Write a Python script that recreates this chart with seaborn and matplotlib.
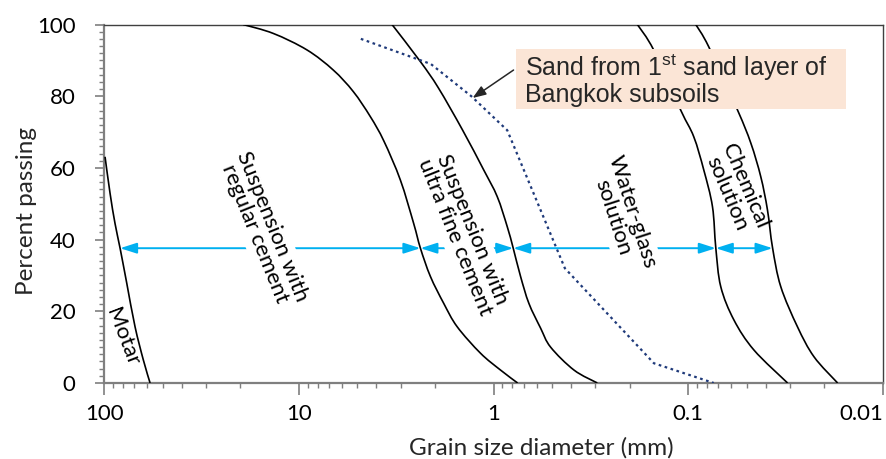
import numpy as np
import pandas as pd
import matplotlib
matplotlib.use("Agg")
import matplotlib.pyplot as plt
import matplotlib.ticker as mticker
from matplotlib.path import Path
from matplotlib.patches import PathPatch, Rectangle
import seaborn as sns

# ---------------- data ----------------
motar_d = [98.8, 93.1, 87.8, 82.7, 76.4, 69.3, 62.8, 58.0]
motar_p = [63.1, 52.9, 44.5, 37.6, 27.8, 15.7, 6.4, 0.0]

regular_d = [19.3, 13.5, 9.07, 6.65, 5.25, 4.29, 3.656, 3.007, 2.570, 2.373,
             2.108, 1.801, 1.537, 1.166, 0.92, 0.752]
regular_p = [100, 97.5, 92.9, 87.3, 81.3, 74.3, 67.5, 56.6, 44.5, 37.6,
             29.7, 22.2, 15.7, 8.3, 3.6, 0]

ultra_d = [3.32, 2.37, 1.918, 1.443, 1.122, 0.957, 0.850, 0.792, 0.726, 0.658,
           0.573, 0.509, 0.386, 0.293]
ultra_p = [100, 89.6, 82.3, 70.6, 59.4, 52.0, 43.6, 37.6, 29.7, 22.2,
           15.3, 10.0, 3.6, 0]

water_d = [0.1825, 0.1505, 0.1093, 0.0937, 0.0832, 0.0751, 0.0722, 0.0681,
           0.0583, 0.0460, 0.0309]
water_p = [100, 92.9, 76.1, 68.7, 59.4, 49.2, 37.7, 26.9, 17.6, 9.2, 0]

chem_d = [0.0915, 0.0785, 0.0558, 0.0477, 0.0424, 0.0392, 0.0369, 0.0335,
          0.0275, 0.0226, 0.0171]
chem_p = [100, 93.8, 76.1, 66.9, 57.5, 48.3, 37.7, 26.9, 15.7, 7.3, 0]

sand_d = [4.8, 2.1, 1.3, 0.85, 0.43, 0.15, 0.074]
sand_p = [96, 89, 80, 70.5, 32, 5.5, 0]

arrow_level = 37.6
arrow_bounds = [82.7, 2.373, 0.792, 0.0722, 0.0369]

x_ticks = [100, 10, 1, 0.1, 0.01]
x_tick_labels = ["100", "10", "1", "0.1", "0.01"]
y_ticks = [0, 20, 40, 60, 80, 100]

labels = ["Motar", "Suspension with\nregular cement",
          "Suspension with\nultra fine cement", "Water-glass\nsolution",
          "Chemical\nsolution"]
label_d = [80.8, 15.2, 1.43, 0.217, 0.057]
label_p = [12.8, 42.7, 41.8, 46.9, 53.8]
label_rot = [-69, -68, -68, -72, -67]
label_gap = [False, True, True, True, False]

annot_text = "Sand from 1$^{\\mathrm{st}}$ sand layer of\nBangkok subsoils"
annot_head = (1.28, 79.5)
annot_tail = (0.789, 87.3)

# ---------------- styling ----------------
sns.set_style("ticks")
plt.rcParams["font.family"] = ["Lato", "DejaVu Sans"]
plt.rcParams["mathtext.fontset"] = "custom"
plt.rcParams["mathtext.rm"] = "Liberation Sans"

fig = plt.figure(figsize=(8.86, 4.59), dpi=100)
ax = fig.add_axes([0.1174, 0.1656, 0.8792, 0.781])
ax.set_xscale("log")
ax.set_xlim(100, 0.01)
ax.set_ylim(0, 100)


def smooth_curve(ax, d, p, **kw):
    """Smoothed (Catmull-Rom / Bezier) line through the read points, in the
    axis' log-x space, like a spreadsheet 'smoothed line'."""
    pts = np.column_stack([np.log10(d), np.asarray(p, float)])
    n = len(pts)
    verts = [pts[0]]
    codes = [Path.MOVETO]
    for i in range(n - 1):
        p0 = pts[i - 1] if i > 0 else pts[i]
        p1, p2 = pts[i], pts[i + 1]
        p3 = pts[i + 2] if i + 2 < n else pts[i + 1]
        verts += [p1 + (p2 - p0) / 6.0, p2 - (p3 - p1) / 6.0, p2]
        codes += [Path.CURVE4] * 3
    verts = np.array(verts)
    verts[:, 0] = 10 ** verts[:, 0]
    ax.add_patch(PathPatch(Path(verts, codes), fill=False,
                           transform=ax.transData, **kw))


curves = [(motar_d, motar_p), (regular_d, regular_p), (ultra_d, ultra_p),
          (water_d, water_p), (chem_d, chem_p)]
for d, p in curves:
    smooth_curve(ax, d, p, ec="black", lw=1.2, zorder=5)

sdf = pd.DataFrame({"d": sand_d, "p": sand_p})
sns.lineplot(data=sdf, x="d", y="p", ax=ax, color="#1F3A7A", lw=1.6,
             sort=False, estimator=None, zorder=5, linestyle=(0, (1.2, 1.6)))
ax.set_xlim(100, 0.01)
ax.set_ylim(0, 100)

# double arrows
for a, b in zip(arrow_bounds[:-1], arrow_bounds[1:]):
    ax.annotate("", xy=(b, arrow_level), xytext=(a, arrow_level),
                arrowprops=dict(arrowstyle="<|-|>,head_length=1.0,head_width=0.32",
                                mutation_scale=10, color="#00B0F0", lw=1.4,
                                shrinkA=0, shrinkB=0), zorder=2)

# rotated labels
for txt, d, p, r, g in zip(labels, label_d, label_p, label_rot, label_gap):
    kw = {}
    if g:
        kw["bbox"] = dict(boxstyle="square,pad=0.15", fc="white", ec="none")
    ax.text(d, p, txt, rotation=r, rotation_mode="anchor", ha="center",
            va="center", fontsize=16, linespacing=0.95, color="black",
            zorder=3, **kw)

# annotation box
ax.add_patch(Rectangle((0.5289, 0.7643), 0.4236, 0.1674, transform=ax.transAxes,
                       fc="#FBE5D6", ec="none", zorder=5.5))
ax.text(0.5404, 0.847, annot_text, transform=ax.transAxes, ha="left",
        va="center", fontsize=18, family=["Liberation Sans", "DejaVu Sans"],
        color="#262626", linespacing=1.0, zorder=6)
ax.annotate("", xy=annot_head, xytext=annot_tail,
            arrowprops=dict(arrowstyle="-|>,head_length=0.8,head_width=0.3",
                            mutation_scale=10, color="#262626", lw=1.1,
                            shrinkA=0, shrinkB=0), zorder=6)

# ticks and spines
ax.set_xticks(x_ticks)
ax.set_xticklabels(x_tick_labels)
ax.xaxis.set_minor_locator(mticker.LogLocator(base=10, subs=np.arange(2, 10)))
ax.xaxis.set_minor_formatter(mticker.NullFormatter())
ax.set_yticks(y_ticks)
ax.yaxis.set_minor_locator(mticker.MultipleLocator(2))

ax.tick_params(axis="both", which="major", labelsize=16, width=1.2,
               color="#7f7f7f", direction="out", labelcolor="black")
ax.tick_params(axis="x", which="major", length=8.5, pad=6.5)
ax.tick_params(axis="y", which="major", length=6.5, pad=14)
ax.tick_params(axis="both", which="minor", length=3.5, width=1.0,
               color="#7f7f7f", direction="out")
ax.get_xticklabels()[-1].set_horizontalalignment("right")

for s in ["left", "bottom"]:
    ax.spines[s].set_color("#7f7f7f")
    ax.spines[s].set_linewidth(1.6)
for s in ["top", "right"]:
    ax.spines[s].set_visible(True)
    ax.spines[s].set_color("#404040")
    ax.spines[s].set_linewidth(1.0)

ax.set_xlabel("Grain size diameter (mm)", fontsize=17.5, va="center")
ax.set_ylabel("Percent passing", fontsize=17.5, va="center")
ax.xaxis.set_label_coords(0.562, -0.18)
ax.yaxis.set_label_coords(-0.1, 0.48)

fig.savefig("out.png", dpi=100)
